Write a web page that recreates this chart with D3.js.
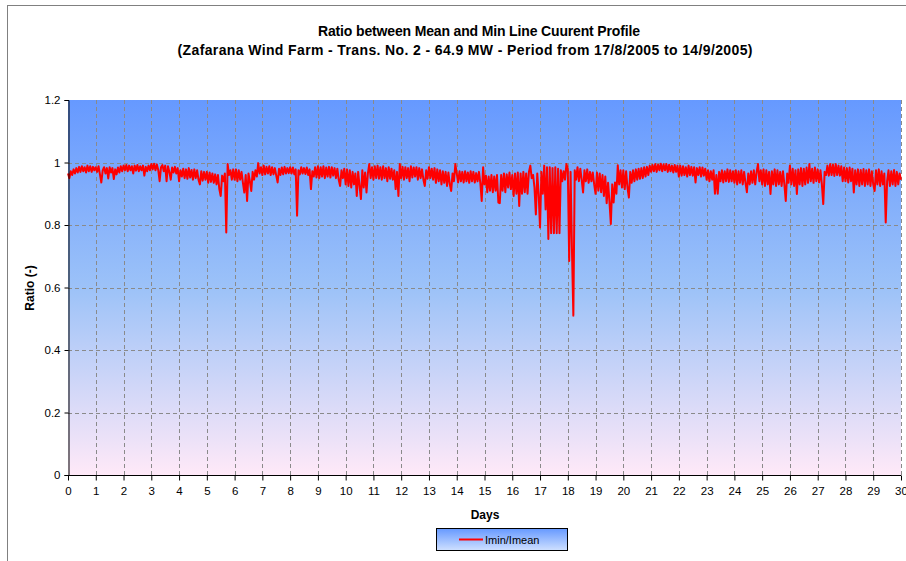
<!DOCTYPE html>
<html><head><meta charset="utf-8">
<script src="https://cdn.jsdelivr.net/npm/d3@7"></script>
<style>
body{margin:0;background:#fff}
svg{display:block}
text{font-family:"Liberation Sans",Arial,sans-serif;fill:#000}
</style>
</head><body>
<svg id="chart" width="906" height="561"></svg>
<script>
const title1 = "Ratio between Mean and Min Line Cuurent Profile";
const title2 = "(Zafarana Wind Farm - Trans. No. 2 - 64.9 MW - Period from 17/8/2005 to 14/9/2005)";
const xTitle = "Days";
const yTitle = "Ratio (-)";
const seriesName = "Imin/Imean";
const xTicks = [0,1,2,3,4,5,6,7,8,9,10,11,12,13,14,15,16,17,18,19,20,21,22,23,24,25,26,27,28,29,30];
const yTicks = [0,0.2,0.4,0.6,0.8,1,1.2];
const sampleStepDays = 0.05;
const ratio = [
0.965,0.95,0.972,0.96,0.978,0.965,0.982,0.968,0.986,0.97,0.988,0.972,0.985,0.968,0.99,0.972,0.988,0.97,0.986,0.975,
0.985,0.97,0.988,0.962,0.936,0.975,0.985,0.965,0.982,0.949,0.985,0.968,0.982,0.947,0.978,0.962,0.984,0.968,0.988,0.972,
0.99,0.975,0.992,0.972,0.99,0.975,0.988,0.965,0.99,0.974,0.992,0.972,0.988,0.975,0.99,0.958,0.986,0.972,0.99,0.975,
0.995,0.978,0.996,0.975,0.994,0.976,0.94,0.985,0.992,0.972,0.99,0.94,0.988,0.97,0.945,0.984,0.968,0.986,0.965,0.982,
0.94,0.975,0.955,0.98,0.95,0.978,0.948,0.982,0.952,0.976,0.945,0.978,0.95,0.975,0.945,0.93,0.972,0.942,0.97,0.945,
0.97,0.935,0.968,0.938,0.965,0.935,0.962,0.93,0.96,0.915,0.893,0.958,0.94,0.965,0.776,0.995,0.96,0.975,0.945,0.978,
0.945,0.978,0.94,0.975,0.945,0.97,0.935,0.904,0.96,0.877,0.965,0.94,0.909,0.97,0.945,0.975,0.955,0.998,0.965,0.985,
0.96,0.99,0.962,0.986,0.965,0.988,0.96,0.985,0.962,0.982,0.958,0.936,0.98,0.96,0.984,0.962,0.986,0.965,0.982,0.966,
0.985,0.965,0.984,0.962,0.978,0.83,0.975,0.962,0.985,0.965,0.982,0.963,0.984,0.96,0.978,0.915,0.972,0.955,0.985,0.952,
0.988,0.95,0.985,0.955,0.988,0.95,0.984,0.955,0.986,0.952,0.985,0.958,0.982,0.95,0.98,0.945,0.925,0.975,0.95,0.98,
0.93,0.978,0.925,0.975,0.92,0.97,0.93,0.965,0.893,0.97,0.925,0.883,0.975,0.92,0.968,0.904,0.965,0.995,0.95,0.985,
0.945,0.988,0.95,0.99,0.948,0.985,0.945,0.988,0.95,0.982,0.94,0.985,0.948,0.98,0.945,0.975,0.915,0.97,0.893,0.995,
0.95,0.986,0.945,0.985,0.95,0.982,0.94,0.988,0.952,0.984,0.955,0.985,0.945,0.982,0.95,0.978,0.945,0.925,0.975,0.948,
0.985,0.95,0.98,0.945,0.982,0.935,0.978,0.94,0.975,0.93,0.972,0.935,0.97,0.925,0.968,0.93,0.909,0.965,0.94,0.995,
0.965,0.936,0.972,0.94,0.97,0.936,0.972,0.94,0.968,0.935,0.972,0.94,0.97,0.936,0.966,0.94,0.97,0.935,0.877,0.985,
0.93,0.958,0.905,0.955,0.91,0.96,0.905,0.955,0.91,0.96,0.872,0.87,0.96,0.91,0.965,0.905,0.962,0.92,0.968,0.915,
0.96,0.893,0.965,0.9,0.968,0.861,0.965,0.9,0.97,0.905,0.965,0.9,0.97,0.99,0.95,0.96,0.92,0.834,0.965,0.9,
0.792,0.97,0.9,0.99,0.85,0.985,0.755,0.985,0.774,0.982,0.774,0.985,0.774,0.98,0.774,0.975,0.94,0.972,0.945,0.995,
0.98,0.685,0.97,0.72,0.51,0.975,0.945,0.985,0.94,0.98,0.945,0.904,0.975,0.94,0.978,0.935,0.97,0.94,0.968,0.93,
0.9,0.968,0.91,0.965,0.905,0.96,0.893,0.955,0.87,0.935,0.875,0.803,0.93,0.872,0.936,0.9,0.991,0.93,0.975,0.92,
0.975,0.915,0.972,0.92,0.888,0.97,0.935,0.975,0.94,0.978,0.945,0.98,0.948,0.982,0.95,0.985,0.955,0.986,0.96,0.99,
0.97,0.992,0.972,0.995,0.97,0.993,0.975,0.996,0.972,0.994,0.975,0.995,0.97,0.993,0.972,0.99,0.968,0.992,0.97,0.99,
0.955,0.99,0.958,0.988,0.96,0.985,0.955,0.99,0.96,0.986,0.958,0.985,0.936,0.982,0.96,0.985,0.955,0.984,0.958,0.98,
0.945,0.975,0.94,0.972,0.945,0.975,0.9,0.96,0.9,0.97,0.94,0.975,0.936,0.972,0.94,0.978,0.938,0.975,0.94,0.972,
0.935,0.975,0.93,0.972,0.935,0.975,0.93,0.97,0.935,0.905,0.965,0.93,0.972,0.935,0.975,0.93,0.97,0.995,0.94,0.975,
0.93,0.978,0.925,0.975,0.93,0.97,0.899,0.972,0.93,0.978,0.925,0.975,0.93,0.97,0.925,0.972,0.93,0.877,0.965,0.935,
0.99,0.93,0.98,0.925,0.975,0.899,0.978,0.93,0.982,0.925,0.98,0.93,0.984,0.935,0.995,0.94,0.98,0.935,0.984,0.94,
0.978,0.936,0.975,0.93,0.867,0.97,0.96,0.99,0.958,0.995,0.96,0.993,0.957,0.995,0.96,0.99,0.958,0.988,0.94,0.984,
0.94,0.982,0.936,0.984,0.94,0.98,0.904,0.975,0.93,0.978,0.925,0.976,0.93,0.979,0.925,0.975,0.93,0.978,0.925,0.972,
0.93,0.909,0.975,0.93,0.978,0.925,0.972,0.93,0.965,0.808,0.94,0.975,0.925,0.972,0.93,0.976,0.925,0.97,0.93,0.965,
0.945
];

const svg = d3.select("#chart");
const L = 68, R = 901, T = 100, B = 475;
const x = d3.scaleLinear().domain([0, 30]).range([L, R]);
const y = d3.scaleLinear().domain([0, 1.2]).range([B, T]);

const defs = svg.append("defs");
const g1 = defs.append("linearGradient").attr("id","plotBg").attr("x1",0).attr("y1",0).attr("x2",0).attr("y2",1);
g1.append("stop").attr("offset","0%").attr("stop-color","#6699ff");
g1.append("stop").attr("offset","50%").attr("stop-color","#9cc2f8");
g1.append("stop").attr("offset","100%").attr("stop-color","#ffe9f8");
const g2 = defs.append("linearGradient").attr("id","legBg").attr("x1",0).attr("y1",0).attr("x2",0).attr("y2",1);
g2.append("stop").attr("offset","0%").attr("stop-color","#6699ff");
g2.append("stop").attr("offset","100%").attr("stop-color","#cfe0ff");

// outer frame
svg.append("rect").attr("x",7.5).attr("y",5.5).attr("width",910).attr("height",570)
  .attr("fill","#fff").attr("stroke","#808080");

// plot background
svg.append("rect").attr("x",L).attr("y",T).attr("width",R-L).attr("height",B-T).attr("fill","url(#plotBg)");

// grid
svg.append("g").selectAll("line").data(yTicks.filter(v => v > 0 && v < 1.2)).join("line")
  .attr("x1",L).attr("x2",R).attr("y1",d=>Math.round(y(d))+0.5).attr("y2",d=>Math.round(y(d))+0.5)
  .attr("stroke","#8a8a8a").attr("stroke-dasharray","4,3");
svg.append("g").selectAll("line").data(xTicks.filter(v => v > 0)).join("line")
  .attr("x1",d=>Math.round(x(d))+0.5).attr("x2",d=>Math.round(x(d))+0.5).attr("y1",T).attr("y2",B)
  .attr("stroke","#8a8a8a").attr("stroke-dasharray","4,3");

// series
const line = d3.line().x((d,i)=>x(i*sampleStepDays)).y(d=>y(d));
svg.append("path").datum(ratio).attr("d",line).attr("fill","none")
  .attr("stroke","#ff0000").attr("stroke-width",2).attr("stroke-linejoin","round");

// axes
const fmt = d => d === 0 ? "0" : String(+d.toFixed(1));
const yAxis = svg.append("g").attr("transform",`translate(${L+0.5},0)`)
  .call(d3.axisLeft(y).tickValues(yTicks).tickFormat(fmt).tickSize(4).tickPadding(4));
const xAxis = svg.append("g").attr("transform",`translate(0,${B+0.5})`)
  .call(d3.axisBottom(x).tickValues(xTicks).tickFormat(d=>d).tickSize(5).tickPadding(6));
[yAxis,xAxis].forEach(a=>{
  a.select(".domain").attr("stroke","#000");
  a.selectAll(".tick line").attr("stroke","#000");
  a.selectAll(".tick text").attr("font-size",11.5).attr("font-family","'Liberation Sans',Arial,sans-serif").attr("fill","#000");
});
xAxis.select(".domain").attr("d",`M${L},0H${R}`);

// titles
svg.append("text").attr("x",479).attr("y",36).attr("text-anchor","middle")
  .attr("font-size",14).attr("font-weight","bold").attr("textLength",322).attr("lengthAdjust","spacing").text(title1);
svg.append("text").attr("x",465).attr("y",55).attr("text-anchor","middle")
  .attr("font-size",14).attr("font-weight","bold").attr("textLength",575).attr("lengthAdjust","spacing").text(title2);
svg.append("text").attr("x",485).attr("y",519).attr("text-anchor","middle")
  .attr("font-size",12).attr("font-weight","bold").text(xTitle);
svg.append("text").attr("transform","translate(34,288) rotate(-90)").attr("text-anchor","middle")
  .attr("font-size",12).attr("font-weight","bold").text(yTitle);

// legend
svg.append("rect").attr("x",436.5).attr("y",528.5).attr("width",131).attr("height",22)
  .attr("fill","url(#legBg)").attr("stroke","#000");
svg.append("line").attr("x1",459).attr("x2",483).attr("y1",539.5).attr("y2",539.5)
  .attr("stroke","#ff0000").attr("stroke-width",2);
svg.append("text").attr("x",485).attr("y",543.5).attr("font-size",11).text(seriesName);
</script>
</body></html>
